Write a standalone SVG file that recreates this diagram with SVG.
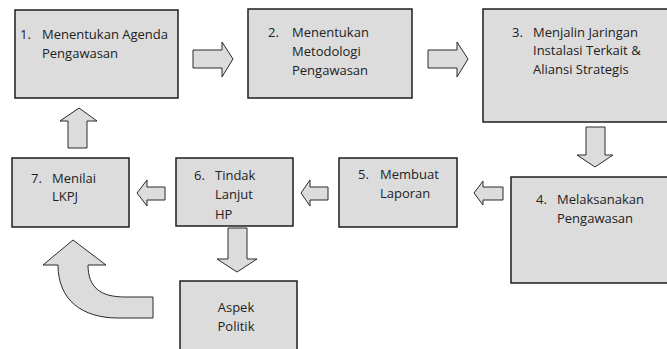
<svg xmlns="http://www.w3.org/2000/svg" width="667" height="349" viewBox="0 0 667 349">
<style>
.box{fill:#dcdcdd;stroke:#1e1e1e;stroke-width:1.5}
.arr{fill:#dcdcdd;stroke:#2a2a2a;stroke-width:1}
text{font-family:"Open Sans","Noto Sans",sans-serif;font-size:13px;fill:#222}
</style>
<rect width="667" height="349" fill="#fff"/>
<g id="connectors">
<polygon class="arr" points="193,50 222,50 222,42 233,59 222,77 222,68 193,68"/>
<polygon class="arr" points="428,50 457,50 457,42 468,59 457,77 457,68 428,68"/>
<polygon class="arr" points="586,127 605,127 605,155 613,155 595,167 577,155 586,155"/>
<polygon class="arr" points="503,187 483,187 483,181 474,193 483,205 483,200 503,200"/>
<polygon class="arr" points="328,187 310,187 310,180 301,193 310,206 310,200 328,200"/>
<polygon class="arr" points="165,187 147,187 147,180 137,193 147,206 147,200 165,200"/>
<polygon class="arr" points="68,148 68,121 60,121 79,108 97,121 87,121 87,148"/>
<polygon class="arr" points="228,228 247,228 247,259 257,259 237,272 217,259 228,259"/>
<path class="arr" d="M153,297 L125,297 C100,297 88,287 88,265 L106,265 L73,240 L43,265 L58,265 C58,300 82,318 118,318 L153,318 Z"/>
</g>
<g id="n1">
<rect class="box" x="15" y="10" width="163" height="88"/>
<text x="20" y="39">1.</text><text x="42" y="39">Menentukan Agenda</text>
<text x="42" y="58">Pengawasan</text>
</g>
<g id="n2">
<rect class="box" x="248" y="9" width="164" height="89"/>
<text x="268" y="37">2.</text><text x="292" y="37">Menentukan</text>
<text x="292" y="56">Metodologi</text>
<text x="292" y="75">Pengawasan</text>
</g>
<g id="n3">
<rect class="box" x="483" y="9" width="200" height="113"/>
<text x="512" y="37">3.</text><text x="533" y="37">Menjalin Jaringan</text>
<text x="533" y="55">Instalasi Terkait &amp;</text>
<text x="533" y="74">Aliansi Strategis</text>
</g>
<g id="n4">
<rect class="box" x="511" y="177" width="172" height="106"/>
<text x="536" y="204">4.</text><text x="557" y="204">Melaksanakan</text>
<text x="557" y="223">Pengawasan</text>
</g>
<g id="n5">
<rect class="box" x="339" y="158" width="118" height="69"/>
<text x="358" y="179">5.</text><text x="380" y="179">Membuat</text>
<text x="380" y="198">Laporan</text>
</g>
<g id="n6">
<rect class="box" x="176" y="158" width="117" height="68"/>
<text x="194" y="180">6.</text><text x="215" y="180">Tindak</text>
<text x="215" y="199">Lanjut</text>
<text x="215" y="219">HP</text>
</g>
<g id="n7">
<rect class="box" x="12" y="158" width="117" height="69"/>
<text x="31" y="183">7.</text><text x="52" y="183">Menilai</text>
<text x="52" y="201">LKPJ</text>
</g>
<g id="n8">
<rect class="box" x="180" y="281" width="117" height="80"/>
<text x="236" y="312" text-anchor="middle">Aspek</text>
<text x="236" y="331" text-anchor="middle">Politik</text>
</g>
</svg>
